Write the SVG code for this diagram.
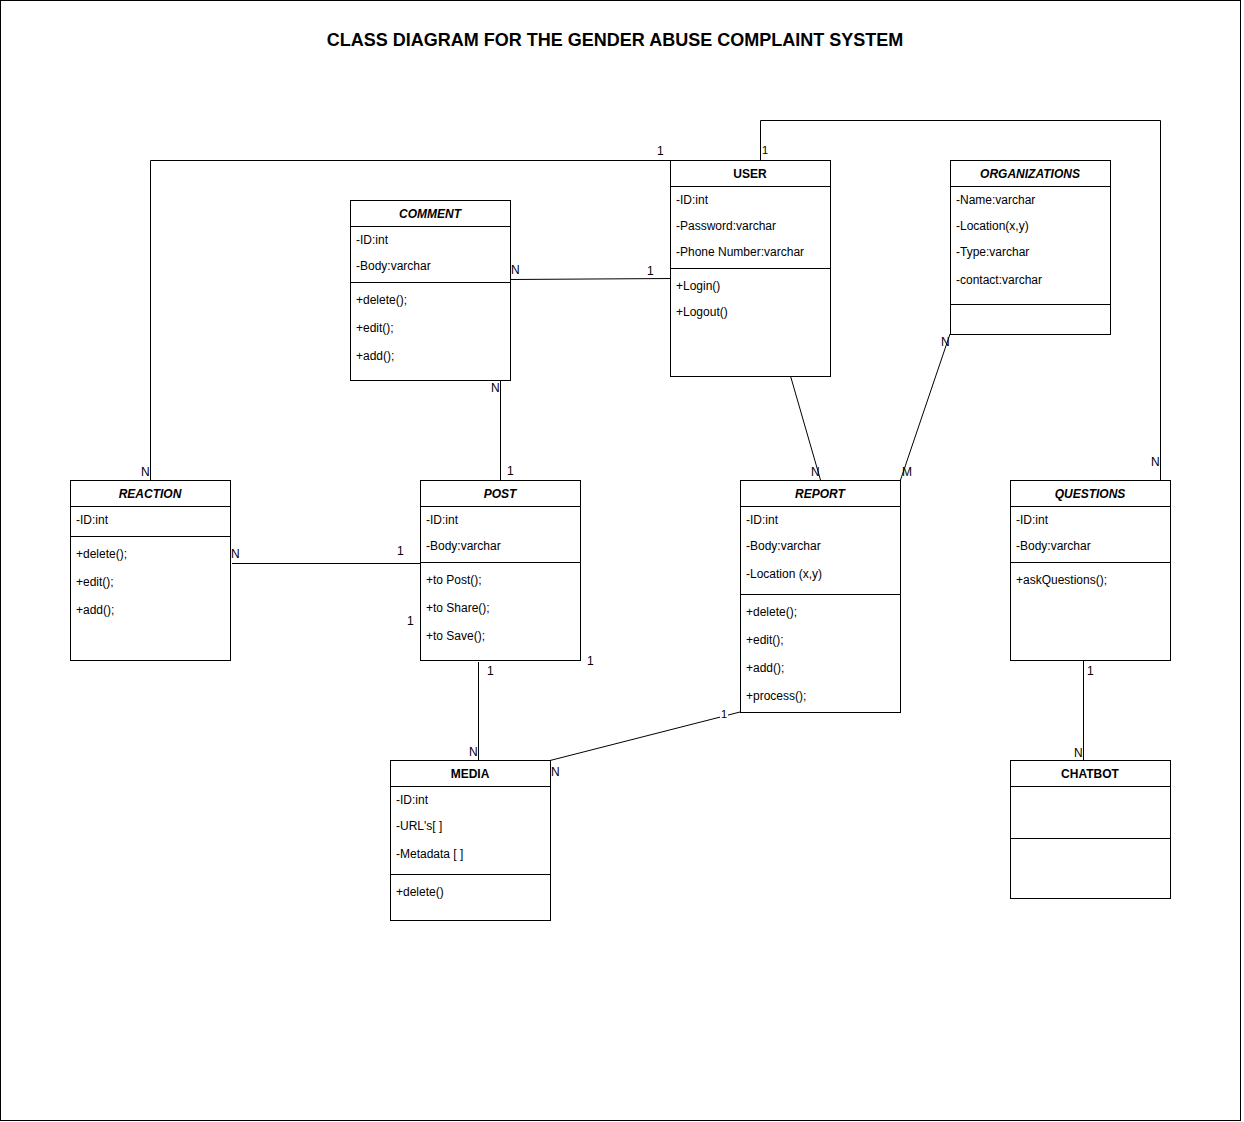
<svg xmlns="http://www.w3.org/2000/svg" width="1244" height="1122" viewBox="0 0 1244 1122">
<style>
text{font-family:"Liberation Sans",Arial,sans-serif;fill:#000}
.box{fill:#fff;stroke:#000;stroke-width:1}
.div{stroke:#000;stroke-width:1}
.hdr{font-size:12px;font-weight:bold;text-anchor:middle}
.it{font-style:italic}
.m{font-size:12px}
.lbl{font-size:12px}
.sm{font-size:11px}
.con{fill:none;stroke:#000;stroke-width:1}
</style>
<rect x="0.5" y="0.5" width="1240" height="1120" fill="#fff" stroke="#000"/>
<text x="615" y="46" text-anchor="middle" font-size="18" font-weight="bold">CLASS DIAGRAM FOR THE GENDER ABUSE COMPLAINT SYSTEM</text>

<g id="connectors">
<polyline class="con" points="760.5,160 760.5,120.5 1160.5,120.5 1160.5,480"/>
<polyline class="con" points="670,160.5 150.5,160.5 150.5,480"/>
<line class="con" x1="510" y1="279.5" x2="672" y2="278.5"/>
<line class="con" x1="500.5" y1="380" x2="500.5" y2="480"/>
<line class="con" x1="232" y1="563.5" x2="420" y2="563.5"/>
<line class="con" x1="478.5" y1="662" x2="478.5" y2="760"/>
<line class="con" x1="790.5" y1="376" x2="820.5" y2="480"/>
<line class="con" x1="950" y1="334" x2="900.5" y2="480"/>
<line class="con" x1="740" y1="712" x2="550" y2="760.5"/>
<line class="con" x1="1083.5" y1="660" x2="1083.5" y2="760"/>
<text class="sm" x="762" y="154">1</text>
<text class="lbl" x="657" y="155">1</text>
<text class="lbl" x="1151" y="466">N</text>
<text class="lbl" x="141" y="476">N</text>
<text class="lbl" x="511" y="274">N</text>
<text class="lbl" x="647" y="275">1</text>
<text class="lbl" x="491" y="392">N</text>
<text class="lbl" x="507" y="475">1</text>
<text class="lbl" x="231" y="558">N</text>
<text class="lbl" x="397" y="555">1</text>
<text class="lbl" x="407" y="625">1</text>
<text class="lbl" x="587" y="665">1</text>
<text class="lbl" x="487" y="675">1</text>
<text class="lbl" x="469" y="756">N</text>
<text class="lbl" x="811" y="476">N</text>
<text class="lbl" x="941" y="346">N</text>
<text class="lbl" x="902" y="476">M</text>
<rect x="720" y="709" width="8" height="11" fill="#fff"/>
<text class="sm" x="721" y="718">1</text>
<text class="lbl" x="551" y="776">N</text>
<text class="lbl" x="1087" y="675">1</text>
<text class="lbl" x="1074" y="757">N</text>
</g>

<g id="user">
<rect class="box" x="670.5" y="160.5" width="160" height="216"/>
<line class="div" x1="670.5" y1="186.5" x2="830.5" y2="186.5"/>
<line class="div" x1="670.5" y1="268.5" x2="830.5" y2="268.5"/>
<text class="hdr" x="750" y="178">USER</text>
<text class="m" x="676" y="204">-ID:int</text>
<text class="m" x="676" y="230">-Password:varchar</text>
<text class="m" x="676" y="256">-Phone Number:varchar</text>
<text class="m" x="676" y="290">+Login()</text>
<text class="m" x="676" y="316">+Logout()</text>
</g>

<g id="comment">
<rect class="box" x="350.5" y="200.5" width="160" height="180"/>
<line class="div" x1="350.5" y1="226.5" x2="510.5" y2="226.5"/>
<line class="div" x1="350.5" y1="282.5" x2="510.5" y2="282.5"/>
<text class="hdr it" x="430" y="218">COMMENT</text>
<text class="m" x="356" y="244">-ID:int</text>
<text class="m" x="356" y="270">-Body:varchar</text>
<text class="m" x="356" y="304">+delete();</text>
<text class="m" x="356" y="332">+edit();</text>
<text class="m" x="356" y="360">+add();</text>
</g>

<g id="organizations">
<rect class="box" x="950.5" y="160.5" width="160" height="174"/>
<line class="div" x1="950.5" y1="186.5" x2="1110.5" y2="186.5"/>
<line class="div" x1="950.5" y1="304.5" x2="1110.5" y2="304.5"/>
<text class="hdr it" x="1030" y="178">ORGANIZATIONS</text>
<text class="m" x="956" y="204">-Name:varchar</text>
<text class="m" x="956" y="230">-Location(x,y)</text>
<text class="m" x="956" y="256">-Type:varchar</text>
<text class="m" x="956" y="284">-contact:varchar</text>
</g>

<g id="reaction">
<rect class="box" x="70.5" y="480.5" width="160" height="180"/>
<line class="div" x1="70.5" y1="506.5" x2="230.5" y2="506.5"/>
<line class="div" x1="70.5" y1="536.5" x2="230.5" y2="536.5"/>
<text class="hdr it" x="150" y="498">REACTION</text>
<text class="m" x="76" y="524">-ID:int</text>
<text class="m" x="76" y="558">+delete();</text>
<text class="m" x="76" y="586">+edit();</text>
<text class="m" x="76" y="614">+add();</text>
</g>

<g id="post">
<rect class="box" x="420.5" y="480.5" width="160" height="180"/>
<line class="div" x1="420.5" y1="506.5" x2="580.5" y2="506.5"/>
<line class="div" x1="420.5" y1="562.5" x2="580.5" y2="562.5"/>
<text class="hdr it" x="500" y="498">POST</text>
<text class="m" x="426" y="524">-ID:int</text>
<text class="m" x="426" y="550">-Body:varchar</text>
<text class="m" x="426" y="584">+to Post();</text>
<text class="m" x="426" y="612">+to Share();</text>
<text class="m" x="426" y="640">+to Save();</text>
</g>

<g id="report">
<rect class="box" x="740.5" y="480.5" width="160" height="232"/>
<line class="div" x1="740.5" y1="506.5" x2="900.5" y2="506.5"/>
<line class="div" x1="740.5" y1="594.5" x2="900.5" y2="594.5"/>
<text class="hdr it" x="820" y="498">REPORT</text>
<text class="m" x="746" y="524">-ID:int</text>
<text class="m" x="746" y="550">-Body:varchar</text>
<text class="m" x="746" y="578">-Location (x,y)</text>
<text class="m" x="746" y="616">+delete();</text>
<text class="m" x="746" y="644">+edit();</text>
<text class="m" x="746" y="672">+add();</text>
<text class="m" x="746" y="700">+process();</text>
</g>

<g id="questions">
<rect class="box" x="1010.5" y="480.5" width="160" height="180"/>
<line class="div" x1="1010.5" y1="506.5" x2="1170.5" y2="506.5"/>
<line class="div" x1="1010.5" y1="562.5" x2="1170.5" y2="562.5"/>
<text class="hdr it" x="1090" y="498">QUESTIONS</text>
<text class="m" x="1016" y="524">-ID:int</text>
<text class="m" x="1016" y="550">-Body:varchar</text>
<text class="m" x="1016" y="584">+askQuestions();</text>
</g>

<g id="media">
<rect class="box" x="390.5" y="760.5" width="160" height="160"/>
<line class="div" x1="390.5" y1="786.5" x2="550.5" y2="786.5"/>
<line class="div" x1="390.5" y1="874.5" x2="550.5" y2="874.5"/>
<text class="hdr" x="470" y="778">MEDIA</text>
<text class="m" x="396" y="804">-ID:int</text>
<text class="m" x="396" y="830">-URL's[ ]</text>
<text class="m" x="396" y="858">-Metadata [ ]</text>
<text class="m" x="396" y="896">+delete()</text>
</g>

<g id="chatbot">
<rect class="box" x="1010.5" y="760.5" width="160" height="138"/>
<line class="div" x1="1010.5" y1="786.5" x2="1170.5" y2="786.5"/>
<line class="div" x1="1010.5" y1="838.5" x2="1170.5" y2="838.5"/>
<text class="hdr" x="1090" y="778">CHATBOT</text>
</g>
</svg>
